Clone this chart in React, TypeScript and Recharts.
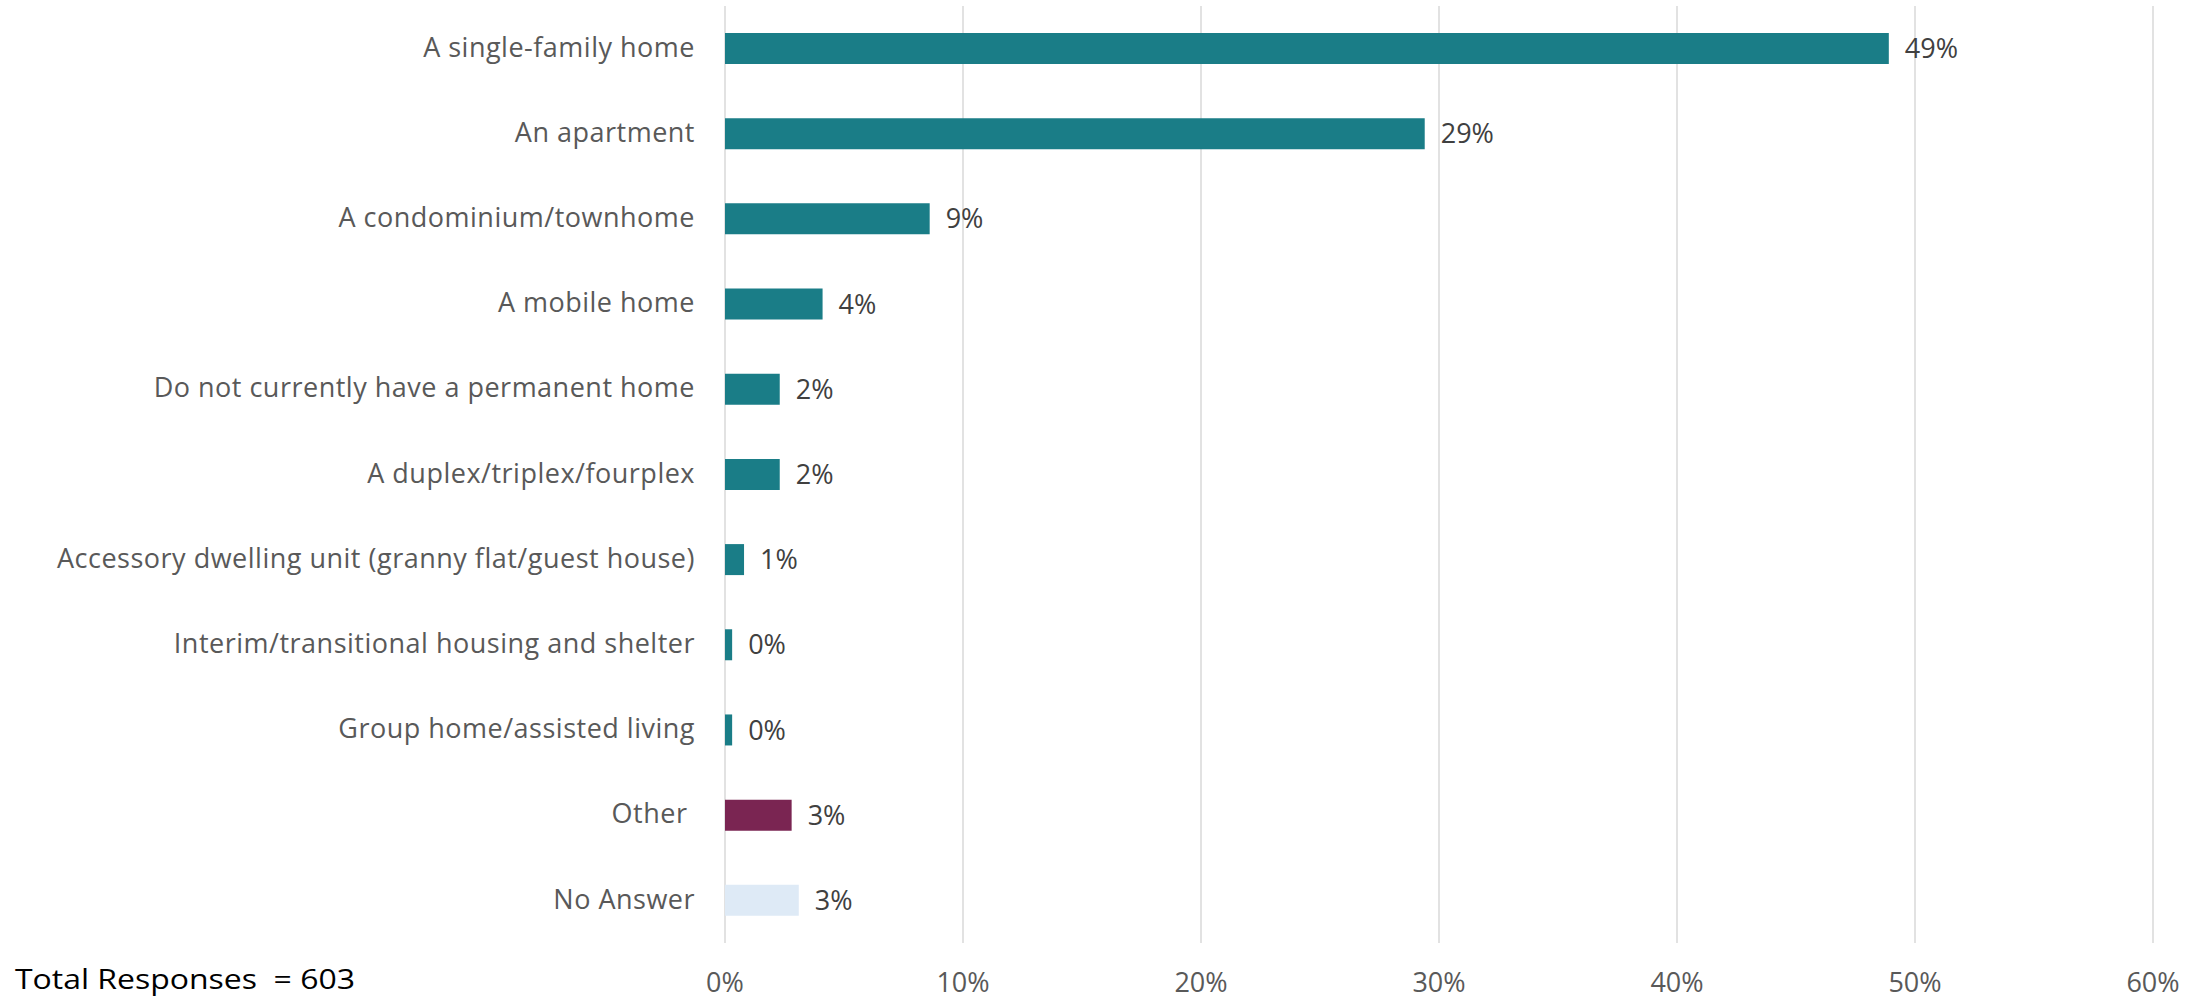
import React from 'react';
import { BarChart, Bar, XAxis, YAxis, CartesianGrid, Cell, LabelList } from 'recharts';

const categories = [
  'A single-family home',
  'An apartment',
  'A condominium/townhome',
  'A mobile home',
  'Do not currently have a permanent home',
  'A duplex/triplex/fourplex',
  'Accessory dwelling unit (granny flat/guest house)',
  'Interim/transitional housing and shelter',
  'Group home/assisted living',
  'Other ',
  'No Answer',
];
const values = [0.489, 0.294, 0.086, 0.041, 0.023, 0.023, 0.008, 0.003, 0.003, 0.028, 0.031];
const barColors = [
  '#1A7D87', '#1A7D87', '#1A7D87', '#1A7D87', '#1A7D87', '#1A7D87',
  '#1A7D87', '#1A7D87', '#1A7D87', '#7A2552', '#DEEAF6',
];
const xTicks = [0, 0.1, 0.2, 0.3, 0.4, 0.5, 0.6];
const totalLabel = 'Total Responses  = 603';

const data = categories.map((name, i) => ({ name, value: values[i], color: barColors[i] }));

const FONT = '"Open Sans", sans-serif';
const pct = (v: number) => `${Math.round(v * 100)}%`;

const CategoryTick = (props: any) => {
  const { x, y, payload } = props;
  return (
    <text
      x={x}
      y={y}
      dy="0.3em"
      textAnchor="end"
      fill="#595959"
      fontSize={27}
      fontFamily={FONT}
      letterSpacing={0.5}
      style={{ whiteSpace: 'pre' }}
    >
      {payload.value}
    </text>
  );
};

export default function App() {
  return (
    <div style={{ position: 'absolute', left: 0, top: 0, width: 2206, height: 1000, background: '#fff' }}>
      <BarChart
        width={2206}
        height={1000}
        data={data}
        layout="vertical"
        margin={{ top: 6, right: 53, bottom: 0, left: 0 }}
      >
        <CartesianGrid horizontal={false} stroke="#D9D9D9" strokeWidth={1.5} />
        <XAxis
          type="number"
          domain={[0, 0.6]}
          ticks={xTicks}
          tickFormatter={pct}
          axisLine={false}
          tickLine={false}
          tickSize={0}
          tickMargin={30}
          height={57}
          tick={{ fill: '#595959', fontSize: 27, fontFamily: FONT }}
        />
        <YAxis
          type="category"
          dataKey="name"
          width={725}
          axisLine={false}
          tickLine={false}
          tickSize={0}
          tickMargin={30}
          interval={0}
          tick={<CategoryTick />}
        />
        <Bar dataKey="value" barSize={31} isAnimationActive={false}>
          {data.map((d, i) => (
            <Cell key={i} fill={d.color} />
          ))}
          <LabelList
            dataKey="value"
            position="right"
            offset={16}
            formatter={(v: any) => pct(Number(v))}
            fill="#404040"
            fontSize={27}
            fontFamily={FONT}
          />
        </Bar>
      </BarChart>
      <svg
        width={400}
        height={60}
        style={{ position: 'absolute', left: 0, top: 940 }}
      >
        <text
          x={15}
          y={49}
          fontSize={27}
          fontFamily={FONT}
          fill="#000"
          textLength={340}
          lengthAdjust="spacingAndGlyphs"
          style={{ whiteSpace: 'pre' }}
        >
          {totalLabel}
        </text>
      </svg>
    </div>
  );
}
